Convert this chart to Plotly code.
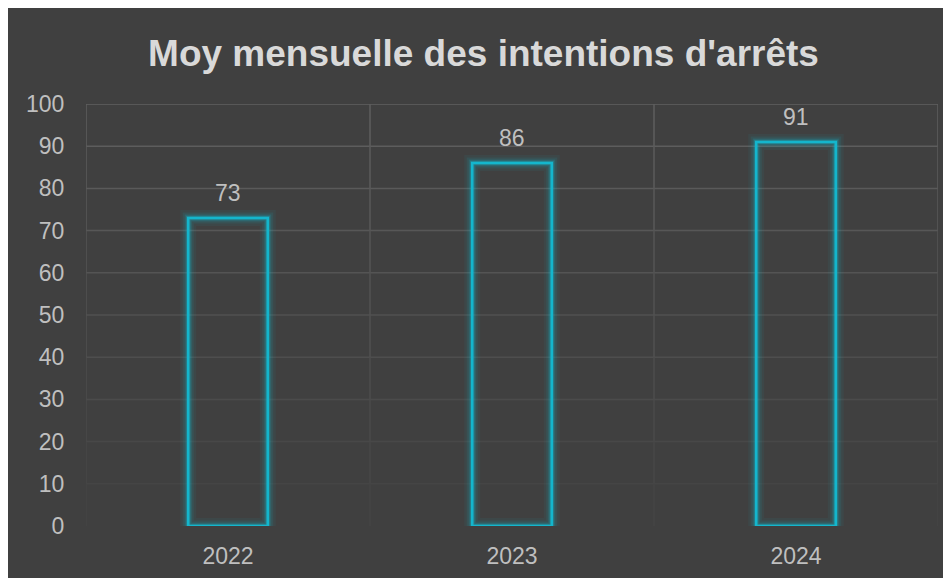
import plotly.graph_objects as go

years = ['2022', '2023', '2024']
moyennes = [73, 86, 91]
y_ticks = [0, 10, 20, 30, 40, 50, 60, 70, 80, 90, 100]

CYAN = "#14b6cd"
BG = "#404040"


def fade(v):
    # gridlines fade out towards the bottom of the plot
    t = v / 100
    c0, c1 = 0x43, 0x60
    g = int(c0 + (c1 - c0) * t)
    return f"rgb({g},{g},{g})"


fig = go.Figure()

# glow layers, widest first
for w, a in [(16, 0.06), (11, 0.10), (7, 0.18), (4.5, 0.28)]:
    fig.add_trace(go.Bar(
        x=years, y=moyennes, width=0.28,
        marker=dict(color="rgba(0,0,0,0)", line=dict(color=f"rgba(20,182,205,{a})", width=w)),
        hoverinfo="skip", showlegend=False,
    ))
fig.add_trace(go.Bar(
    x=years, y=moyennes, width=0.28,
    marker=dict(color="rgba(0,0,0,0)", line=dict(color=CYAN, width=2.5)),
    showlegend=False,
))

shapes = []
# horizontal gridlines
for v in y_ticks[1:]:
    shapes.append(dict(type="line", xref="x", yref="y", x0=-0.5, x1=2.5, y0=v, y1=v,
                       line=dict(color=fade(v), width=1.5), layer="below"))
# vertical category boundaries, faded in segments
for b in [-0.5, 0.5, 1.5, 2.5]:
    for v in y_ticks[:-1]:
        shapes.append(dict(type="line", xref="x", yref="y", x0=b, x1=b, y0=v, y1=v + 10,
                           line=dict(color=fade(v + 5), width=1.5), layer="below"))

# value labels; x given as category index (year strings would be read as numbers)
annotations = [dict(x=i, y=y, text=str(y), showarrow=False, yanchor="bottom", yshift=10,
                    font=dict(size=23, color="#bfbfbf"))
               for i, y in enumerate(moyennes)]

fig.update_layout(
    width=951, height=578,
    barmode="overlay",
    paper_bgcolor=BG, plot_bgcolor=BG,
    margin=dict(l=78, r=21, t=96, b=60),
    font=dict(family="Liberation Sans, Arial, sans-serif", size=23, color="#bfbfbf"),
    title=dict(text="<b>Moy mensuelle des intentions d'arrêts</b>", x=0.5, xanchor="center",
               y=0.922, yanchor="middle", font=dict(size=37, color="#d9d9d9")),
    shapes=shapes,
    annotations=annotations,
)
fig.update_xaxes(type="category", showgrid=False, zeroline=False, showline=False, range=[-0.5, 2.5],
                 ticks="outside", ticklen=9, tickcolor="rgba(0,0,0,0)")
fig.update_yaxes(range=[0, 100], tickvals=y_ticks, showgrid=False, zeroline=False, showline=False,
                 ticks="outside", ticklen=16, tickcolor="rgba(0,0,0,0)")

fig.write_html("out.html")
